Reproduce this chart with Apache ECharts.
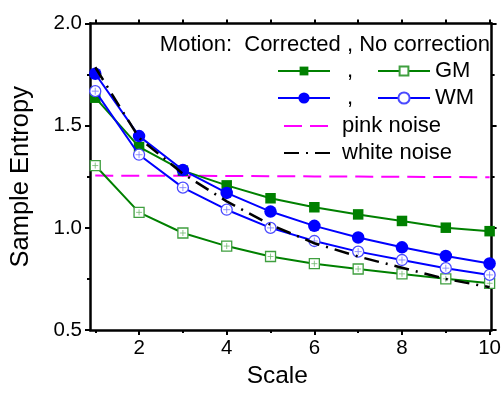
<!DOCTYPE html>
<html>
<head>
<meta charset="utf-8">
<script src="https://cdn.jsdelivr.net/npm/echarts@6/dist/echarts.min.js"></script>
<style>html,body{margin:0;padding:0;background:#fff}#c{width:504px;height:394px}</style>
</head>
<body>
<div id="c"></div>
<script>
const scales = [1, 2, 3, 4, 5, 6, 7, 8, 9, 10];
const gmCorrected = [1.637, 1.396, 1.280, 1.208, 1.145, 1.101, 1.066, 1.034, 1.001, 0.984];
const gmNoCorrection = [1.305, 1.076, 0.975, 0.911, 0.860, 0.825, 0.799, 0.775, 0.751, 0.729];
const wmCorrected = [1.754, 1.449, 1.283, 1.171, 1.080, 1.010, 0.953, 0.905, 0.863, 0.826];
const wmNoCorrection = [1.669, 1.358, 1.197, 1.089, 1.000, 0.936, 0.884, 0.843, 0.803, 0.770];
const pinkNoise = [1.256, 1.255, 1.255, 1.254, 1.253, 1.252, 1.251, 1.250, 1.249, 1.248];
const whiteNoise = [1.786, 1.440, 1.265, 1.130, 1.015, 0.925, 0.860, 0.805, 0.750, 0.710];
const xLabelValues = [2, 4, 6, 8, 10];
const xMinorValues = [1, 3, 5, 7, 9];

const FONT = 'Liberation Sans, Arial, sans-serif';
const GREEN = '#008000', GREEN_L = '#3f9f3f', BLUE = '#0000ff', BLUE_L = '#4a4aff';
const pair = a => scales.map((x, i) => [x, a[i]]);
const plusPath = 'path://M5,0L5,10M0,5L10,5';

const chart = echarts.init(document.getElementById('c'), null, {renderer: 'canvas'});
const xCommon = {type: 'value', min: 0.88, max: 10.045, splitLine: {show: false}};
chart.setOption({
  animation: false,
  backgroundColor: '#fff',
  grid: {left: 85, right: 10, top: 23.5, bottom: 59, containLabel: false},
  xAxis: [
    Object.assign({}, xCommon, {
      position: 'bottom', name: 'Scale', nameLocation: 'middle', nameGap: 31,
      nameTextStyle: {fontFamily: FONT, fontSize: 24.5, color: '#000', padding: [0, 27, 0, 0]},
      axisLine: {lineStyle: {color: '#000', width: 2.5}},
      axisTick: {inside: false, length: 5, lineStyle: {width: 2, color: '#000'}, customValues: xLabelValues},
      axisLabel: {margin: 8, fontFamily: FONT, fontSize: 20.5, color: '#000', customValues: xLabelValues}
    }),
    Object.assign({}, xCommon, {
      position: 'bottom',
      axisLine: {show: false},
      axisTick: {inside: false, length: 3, lineStyle: {width: 2, color: '#000'}, customValues: xMinorValues},
      axisLabel: {show: false}
    }),
    Object.assign({}, xCommon, {
      position: 'top',
      axisLine: {lineStyle: {color: '#000', width: 2.5}},
      axisTick: {inside: false, length: 4, lineStyle: {width: 2, color: '#000'}, customValues: scales},
      axisLabel: {show: false}
    })
  ],
  yAxis: [
    {
      type: 'value', min: 0.5, max: 2.0, interval: 0.5, position: 'left',
      name: 'Sample Entropy', nameLocation: 'middle', nameGap: 56,
      nameTextStyle: {fontFamily: FONT, fontSize: 25.5, color: '#000'},
      axisLine: {show: true, lineStyle: {color: '#000', width: 2.5}},
      axisTick: {show: true, inside: false, length: 5, lineStyle: {width: 2, color: '#000'}},
      minorTick: {show: true, splitNumber: 2, length: 3, lineStyle: {width: 2, color: '#000'}},
      axisLabel: {margin: 8, fontFamily: FONT, fontSize: 20.5, color: '#000', formatter: v => v.toFixed(1)},
      splitLine: {show: false}
    },
    {
      type: 'value', min: 0.5, max: 2.0, interval: 0.5, position: 'right',
      axisLine: {show: true, lineStyle: {color: '#000', width: 2.5}},
      axisTick: {show: true, inside: false, length: 5, lineStyle: {width: 2, color: '#000'}},
      minorTick: {show: true, splitNumber: 2, length: 3, lineStyle: {width: 2, color: '#000'}},
      axisLabel: {show: false},
      splitLine: {show: false}
    }
  ],
  legend: [
    {
      data: ['GM corrected', 'GM no correction'], left: 277, top: 60, padding: 0,
      itemWidth: 52, itemHeight: 11, itemGap: 12, selectedMode: false,
      formatter: n => n === 'GM corrected' ? '{c|,}' : 'GM',
      textStyle: {fontFamily: FONT, fontSize: 22, lineHeight: 22, color: '#000',
        rich: {c: {width: 30, align: 'center', fontFamily: FONT, fontSize: 22, lineHeight: 22}}}
    },
    {
      data: ['WM corrected', 'WM no correction'], left: 277, top: 87, padding: 0,
      itemWidth: 52, itemHeight: 14, itemGap: 12, selectedMode: false,
      formatter: n => n === 'WM corrected' ? '{c|,}' : 'WM',
      textStyle: {fontFamily: FONT, fontSize: 22, lineHeight: 22, color: '#000',
        rich: {c: {width: 30, align: 'center', fontFamily: FONT, fontSize: 22, lineHeight: 22}}}
    },
    {
      data: [{name: 'pink noise', itemStyle: {opacity: 0}}, {name: 'white noise', itemStyle: {opacity: 0}}],
      orient: 'vertical', left: 283, top: 115, padding: 0,
      itemWidth: 49, itemHeight: 10, itemGap: 5, selectedMode: false,
      textStyle: {fontFamily: FONT, fontSize: 22, lineHeight: 22, color: '#000', padding: [0, 0, 0, 4]}
    }
  ],
  graphic: [
    {type: 'text', right: 14, top: 34,
     style: {text: 'Motion:  Corrected , No correction', font: '22px ' + FONT, fill: '#000'}}
  ],
  series: [
    {name: 'pink noise', type: 'line', data: pair(pinkNoise), symbol: 'none',
     lineStyle: {color: '#ff00ff', width: 2, type: [18, 8]}, itemStyle: {color: '#ff00ff'}, z: 1},
    {name: 'GM no correction', type: 'line', data: pair(gmNoCorrection), symbol: 'rect', symbolSize: 10,
     lineStyle: {color: GREEN, width: 2}, itemStyle: {color: '#fff', borderColor: GREEN_L, borderWidth: 1.3}, z: 2},
    {name: 'GM no correction +', type: 'scatter', data: pair(gmNoCorrection), symbol: plusPath, symbolSize: 6,
     itemStyle: {color: 'transparent', borderColor: '#70b870', borderWidth: 1}, z: 3},
    {name: 'GM corrected', type: 'line', data: pair(gmCorrected), symbol: 'rect', symbolSize: 10.5,
     lineStyle: {color: GREEN, width: 2}, itemStyle: {color: GREEN}, z: 4},
    {name: 'WM no correction', type: 'line', data: pair(wmNoCorrection), symbol: 'circle', symbolSize: 11,
     lineStyle: {color: BLUE, width: 2}, itemStyle: {color: '#fff', borderColor: BLUE_L, borderWidth: 1.3}, z: 5},
    {name: 'WM no correction +', type: 'scatter', data: pair(wmNoCorrection), symbol: plusPath, symbolSize: 7,
     itemStyle: {color: 'transparent', borderColor: '#7a7aff', borderWidth: 1}, z: 6},
    {name: 'WM corrected', type: 'line', data: pair(wmCorrected), symbol: 'circle', symbolSize: 12.5,
     lineStyle: {color: BLUE, width: 2}, itemStyle: {color: BLUE}, z: 7},
    {name: 'white noise', type: 'line', data: pair(whiteNoise), symbol: 'none',
     lineStyle: {color: '#000', width: 2.5, type: [15, 7, 2, 7]}, itemStyle: {color: '#000'}, z: 8}
  ]
});
</script>
</body>
</html>
